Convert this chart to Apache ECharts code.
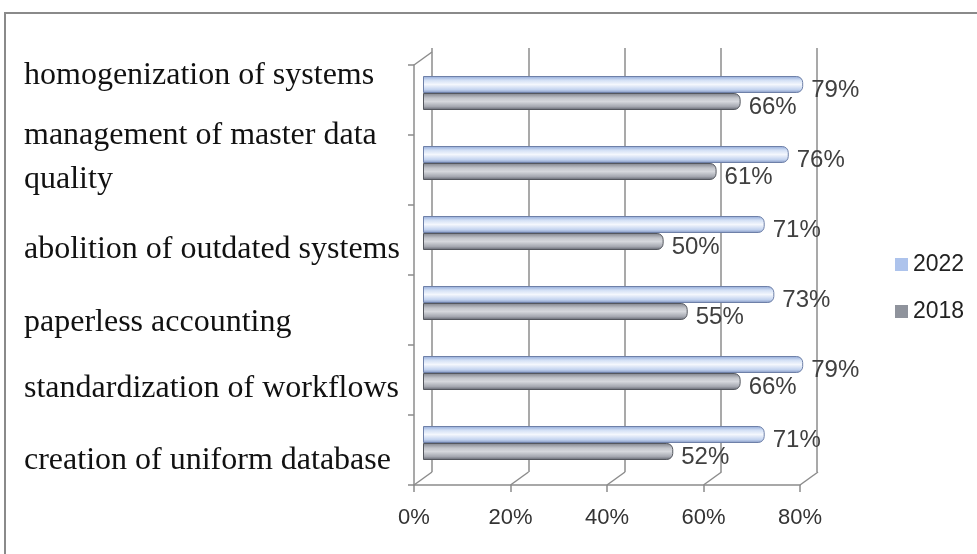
<!DOCTYPE html>
<html>
<head>
<meta charset="utf-8">
<script src="https://cdn.jsdelivr.net/npm/echarts@6/dist/echarts.min.js"></script>
<style>
html,body{margin:0;padding:0;background:#fff;}
#frame{position:absolute;left:4px;top:12px;width:990px;height:560px;border:2px solid #8a8a8a;box-sizing:border-box;}
#chart{position:absolute;left:0;top:0;width:977px;height:554px;}
</style>
</head>
<body>
<div id="frame"></div>
<div id="chart"></div>
<script>
const categories = [
  'homogenization of systems',
  'management of master data\nquality',
  'abolition of outdated systems',
  'paperless accounting',
  'standardization of workflows',
  'creation of uniform database'
];
const values2022 = [79, 76, 71, 73, 79, 71];
const values2018 = [66, 61, 50, 55, 66, 52];
const seriesNames = ['2022', '2018'];
const xTicks = [0, 20, 40, 60, 80];

const chart = echarts.init(document.getElementById('chart'));
const gridColor = '#8c8c8c';

const blueGrad = new echarts.graphic.LinearGradient(0, 0, 0, 1, [
  {offset: 0, color: '#8ea6d6'},
  {offset: 0.25, color: '#d3e0f5'},
  {offset: 0.5, color: '#f4f7fd'},
  {offset: 0.8, color: '#c3d3ef'},
  {offset: 1, color: '#7f93bf'}
]);
const greyGrad = new echarts.graphic.LinearGradient(0, 0, 0, 1, [
  {offset: 0, color: '#7b7e88'},
  {offset: 0.3, color: '#c4c6cc'},
  {offset: 0.5, color: '#d6d8dd'},
  {offset: 0.8, color: '#a4a7b0'},
  {offset: 1, color: '#5f626c'}
]);

const labelStyle = {
  show: true, position: 'right', distance: 8, offset: [0, 6],
  formatter: '{c}%', fontFamily: 'Liberation Sans', fontSize: 24, color: '#404040'
};

// depth offset of the 3D back wall relative to the front plane
const DX = 18, DY = -13;

// small per-label vertical nudges (style only) mimicking the original's uneven spacing
const labelNudge = [-5, 0, 15, 11, 0, -5];
const rich = {};
labelNudge.forEach(function(d, i) {
  rich['s' + i] = {
    fontFamily: 'Liberation Serif', fontSize: 32, color: '#111', lineHeight: 44,
    padding: d >= 0 ? [2 * d, 0, 0, 0] : [0, 0, -2 * d, 0]
  };
});

chart.setOption({
  animation: false,
  grid: [
    {left: 432, top: 48, width: 385, height: 424},
    {left: 423, top: 58, width: 385, height: 420},
    {left: 414, top: 65, width: 386, height: 420},
    {left: 400, top: 42, width: 10, height: 462}
  ],
  xAxis: [
    {gridIndex: 0, type: 'value', min: 0, max: 80, interval: 20,
     axisLine: {show: false}, axisTick: {show: false}, axisLabel: {show: false},
     splitLine: {show: true, lineStyle: {color: gridColor, width: 1.5}}},
    {gridIndex: 1, type: 'value', min: 0, max: 80, interval: 20, show: false},
    {gridIndex: 2, type: 'value', min: 0, max: 80, interval: 20,
     axisLine: {show: true, lineStyle: {color: gridColor, width: 1.5}},
     axisTick: {show: true, length: 7, lineStyle: {color: gridColor, width: 1.5}},
     axisLabel: {formatter: function(v){ return v + '%'; }, margin: 22,
       fontFamily: 'Liberation Sans', fontSize: 22, color: '#333'},
     splitLine: {show: false}},
    {gridIndex: 3, type: 'value', show: false}
  ],
  yAxis: [
    {gridIndex: 0, type: 'category', data: categories, inverse: true, show: false},
    {gridIndex: 1, type: 'category', data: categories, inverse: true, show: false},
    {gridIndex: 2, type: 'category', data: categories, inverse: true,
     axisLine: {show: true, lineStyle: {color: gridColor, width: 1.5}},
     axisTick: {show: true, length: 6, lineStyle: {color: gridColor, width: 1.5}},
     axisLabel: {show: false}},
    {gridIndex: 3, type: 'category', data: categories, inverse: true,
     axisLine: {show: false}, axisTick: {show: false},
     axisLabel: {align: 'left', margin: 376, fontFamily: 'Liberation Serif',
       fontSize: 32, color: '#111', lineHeight: 44, rich: rich,
       formatter: function(v, i) {
         return v.split('\n').map(function(line){ return '{s' + i + '|' + line + '}'; }).join('\n');
       }}}
  ],
  legend: {
    data: [
      {name: seriesNames[0], itemStyle: {color: '#adc3ec', borderWidth: 0}},
      {name: seriesNames[1], itemStyle: {color: '#8f939c', borderWidth: 0}}
    ],
    orient: 'vertical', left: 890, top: 248, itemGap: 24,
    itemWidth: 13, itemHeight: 13, icon: 'rect',
    textStyle: {fontFamily: 'Liberation Sans', fontSize: 23, color: '#222'}
  },
  series: [
    {name: seriesNames[0], type: 'bar', xAxisIndex: 1, yAxisIndex: 1, data: values2022,
     barWidth: 17, barGap: '0%',
     itemStyle: {color: blueGrad, borderColor: '#6e80a8', borderWidth: 1, borderRadius: [0, 6, 6, 0]},
     label: labelStyle},
    {name: seriesNames[1], type: 'bar', xAxisIndex: 1, yAxisIndex: 1, data: values2018,
     barWidth: 17, barGap: '0%',
     itemStyle: {color: greyGrad, borderColor: '#55585f', borderWidth: 1, borderRadius: [0, 6, 6, 0]},
     label: labelStyle},
    {type: 'custom', xAxisIndex: 2, yAxisIndex: 2, silent: true, z: 1,
     data: xTicks.map(function(v){ return [v]; }),
     renderItem: function(params, api) {
       const cs = params.coordSys;
       const v = api.value(0);
       const x = api.coord([v, 0])[0];
       const yb = cs.y + cs.height;
       const children = [{
         type: 'line',
         shape: {x1: x, y1: yb, x2: x + DX, y2: yb + DY},
         style: {stroke: gridColor, lineWidth: 1.5}
       }];
       if (v === 0) {
         children.push({
           type: 'line',
           shape: {x1: x, y1: cs.y, x2: x + DX, y2: cs.y + DY},
           style: {stroke: gridColor, lineWidth: 1.5}
         });
       }
       return {type: 'group', children: children};
     }}
  ]
});
</script>
</body>
</html>
